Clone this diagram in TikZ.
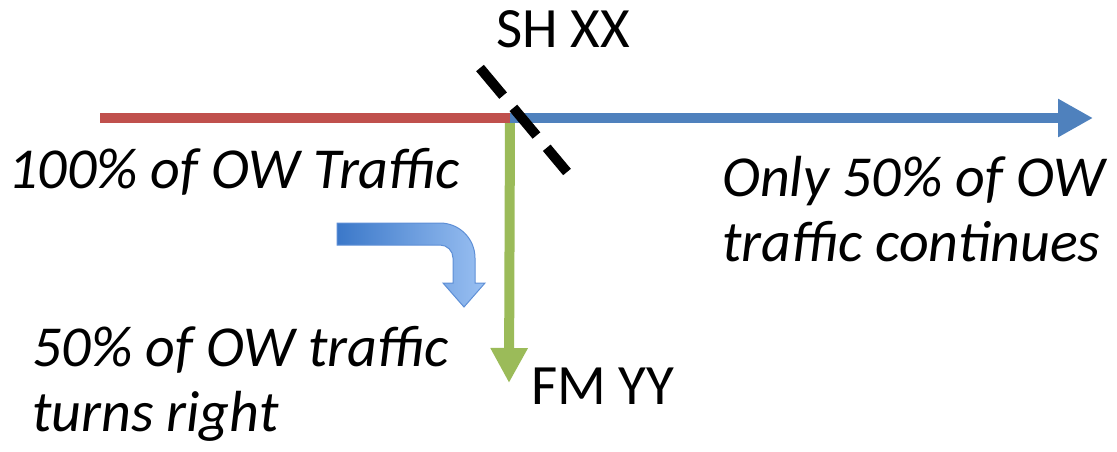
\documentclass[tikz,border=0pt]{standalone}
\usepackage{fontspec}
\setmainfont{Carlito}
\usepackage{xcolor}
\usetikzlibrary{arrows.meta,positioning,calc}

\definecolor{roadred}{HTML}{C0504D}
\definecolor{roadblue}{HTML}{4F81BD}
\definecolor{roadgreen}{HTML}{9BBB59}
\definecolor{turndark}{HTML}{3B78C9}
\definecolor{turnlight}{HTML}{9AC0F2}
\definecolor{turnedge}{HTML}{5E8FD6}

\tikzset{
  road/.style={line width=10pt},
  note/.style={font=\fontsize{58}{65}\selectfont\itshape, inner sep=0pt, align=left, anchor=base west},
  roadname/.style={font=\fontsize{57}{65}\selectfont, inner sep=0pt, anchor=base west},
}

\begin{document}
\begin{tikzpicture}[x=1pt,y=1pt]
\useasboundingbox (0,0) rectangle (1117,-451);
% road ends
\coordinate (west) at (100,-118);
\coordinate (junction) at (510,-118);
\coordinate (east) at (1093,-118);
\coordinate (south) at (509,-383);
\coordinate (cutA) at (480,-68);
\coordinate (cutB) at (567,-172);
% roads
\draw[road,roadgreen,-{Triangle[length=35pt,width=35pt]}] (junction) -- (south);
\draw[road,roadred] (west) -- (junction);
\draw[road,roadblue,-{Triangle[length=35pt,width=36pt]}] (junction) -- (east);
\draw[road,black,dash pattern=on 36pt off 16pt] (cutA) -- (cutB);
% turning arrow
\shadedraw[left color=turndark, right color=turnlight, draw=turnedge, line width=1pt]
  (337,-223) -- (440,-223) arc[start angle=90, end angle=0, radius=35pt]
  -- (475,-283) -- (485,-283) -- (464,-307) -- (443,-283) -- (453,-283)
  -- (453,-258) arc[start angle=0, end angle=90, radius=13pt]
  -- (337,-245) -- cycle;
% labels
\node[roadname] (sh) at (496,-47) {SH XX};
\node[roadname] (fm) at (531,-404) {FM YY};
\node[note] (all) at (8,-188) {100\% of OW Traffic};
\node[note] (straight) at (722,-261) {Only 50\% of OW\\traffic continues};
\node[note] (right) at (32,-431) {50\% of OW traffic\\turns right};
\end{tikzpicture}
\end{document}
